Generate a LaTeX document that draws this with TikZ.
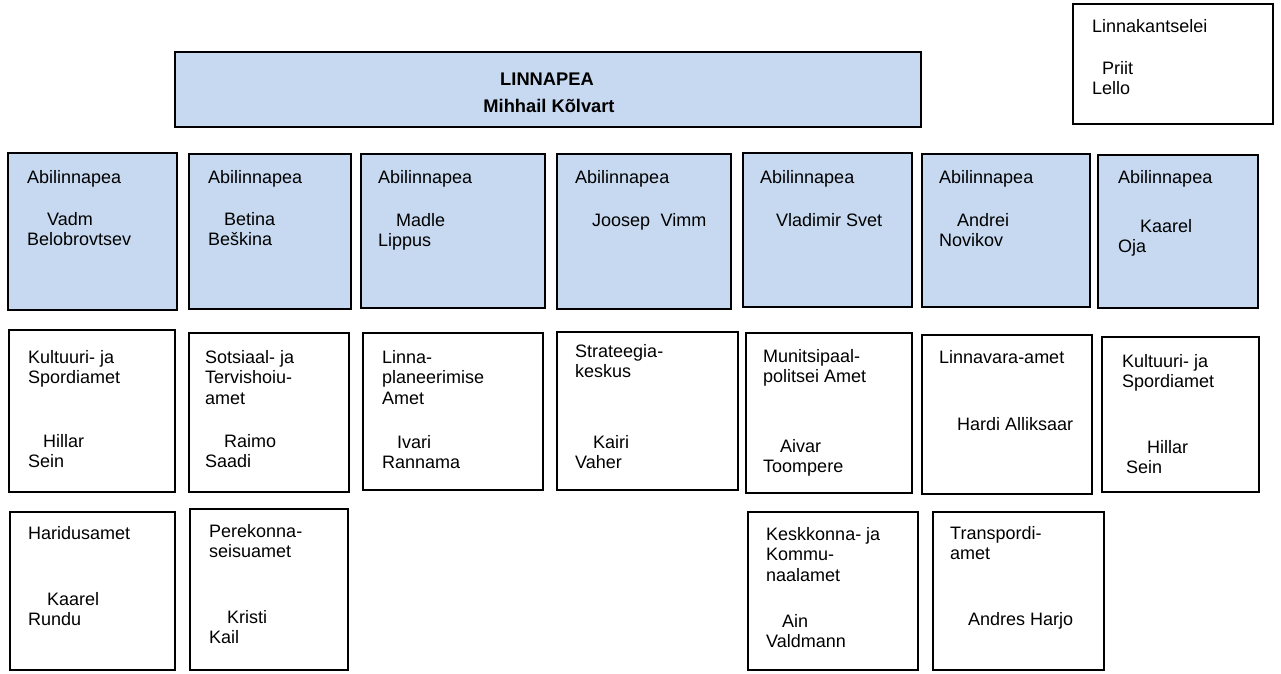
\documentclass[tikz,border=0pt]{standalone}
\usepackage{fontspec}
\setmainfont{Liberation Sans}
\definecolor{boxblue}{HTML}{C6D9F0}
\tikzset{
  boxbase/.style={draw=black, line width=1.6pt, inner sep=0pt, rectangle},
  bluebox/.style={boxbase, fill=boxblue},
  whitebox/.style={boxbase, fill=white},
  txt/.style={anchor=north west, inner sep=0pt, align=left, font=\fontsize{18}{20.5}\selectfont},
  boldtxt/.style={anchor=base, inner sep=0pt, font=\bfseries\fontsize{18.3}{21}\selectfont}
}
\newcommand\bx[6]{\node[#2, minimum width={(#5)-(#3)}, minimum height={(#6)-(#4)}] (#1) at ({((#3)+(#5))/2},{((#4)+(#6))/2}) {};}
\newcommand\tx[4]{\node[txt] (#1) at (#2,{(#3)-14}) {\rule{0pt}{14pt}#4};}
\newcommand\ind[1]{\hspace*{#1pt}}
\begin{document}
\begin{tikzpicture}[x=1pt,y=-1pt]
\useasboundingbox (0,0) rectangle (1281,673);
% main box
\bx{main}{bluebox}{175}{52}{921}{127}
\node[boldtxt] (mainT) at (547,85) {LINNAPEA};
\node[boldtxt] (mainN) at (549,112) {Mihhail Kõlvart};
% Linnakantselei
\bx{kant}{whitebox}{1073}{4}{1273}{124}
\tx{kantT}{1092}{32}{Linnakantselei}
\tx{kantN}{1092}{74}{\ind{10}Priit\\Lello}
% row 1
\bx{a1}{bluebox}{8}{153}{177}{310}
\bx{a2}{bluebox}{189}{154}{351}{309}
\bx{a3}{bluebox}{361}{154}{545}{308}
\bx{a4}{bluebox}{557}{154}{731}{309}
\bx{a5}{bluebox}{743}{153}{912}{307}
\bx{a6}{bluebox}{922}{154}{1090}{307}
\bx{a7}{bluebox}{1098}{155}{1258}{308}
\tx{a1T}{27}{183}{Abilinnapea}
\tx{a1N}{27}{225}{\ind{20}Vadm\\Belobrovtsev}
\tx{a2T}{208}{183}{Abilinnapea}
\tx{a2N}{208}{225}{\ind{16}Betina\\Beškina}
\tx{a3T}{378}{183}{Abilinnapea}
\tx{a3N}{378}{226}{\ind{18}Madle\\Lippus}
\tx{a4T}{575}{183}{Abilinnapea}
\tx{a4N}{592}{226}{Joosep\hspace{0.3em} Vimm}
\tx{a5T}{760}{183}{Abilinnapea}
\tx{a5N}{776}{226}{Vladimir Svet}
\tx{a6T}{939}{183}{Abilinnapea}
\tx{a6N}{939}{226}{\ind{18}Andrei\\Novikov}
\tx{a7T}{1118}{183}{Abilinnapea}
\tx{a7N}{1118}{232}{\ind{22}Kaarel\\Oja}
% row 2
\bx{b1}{whitebox}{9}{330}{175}{492}
\bx{b2}{whitebox}{189}{333}{349}{492}
\bx{b3}{whitebox}{363}{333}{543}{490}
\bx{b4}{whitebox}{557}{332}{738}{490}
\bx{b5}{whitebox}{746}{333}{912}{493}
\bx{b6}{whitebox}{922}{335}{1092}{494}
\bx{b7}{whitebox}{1102}{337}{1259}{492}
\tx{b1T}{28}{363}{Kultuuri- ja\\Spordiamet}
\tx{b1N}{28}{447}{\ind{15}Hillar\\Sein}
\tx{b2T}{205}{363}{Sotsiaal- ja\\Tervishoiu-\\amet}
\tx{b2N}{205}{447}{\ind{19}Raimo\\Saadi}
\tx{b3T}{382}{363}{Linna-\\planeerimise\\Amet}
\tx{b3N}{382}{448}{\ind{15}Ivari\\Rannama}
\tx{b4T}{575}{357}{Strateegia-\\keskus}
\tx{b4N}{575}{448}{\ind{18}Kairi\\Vaher}
\tx{b5T}{763}{362}{Munitsipaal-\\politsei Amet}
\tx{b5N}{763}{452}{\ind{17}Aivar\\Toompere}
\tx{b6T}{939}{363}{Linnavara-amet}
\tx{b6N}{957}{430}{Hardi Alliksaar}
\tx{b7T}{1122}{367}{Kultuuri- ja\\Spordiamet}
\tx{b7N}{1126}{453}{\ind{21}Hillar\\Sein}
% row 3
\bx{c1}{whitebox}{10}{512}{175}{670}
\bx{c2}{whitebox}{190}{509}{348}{670}
\bx{c5}{whitebox}{748}{512}{918}{670}
\bx{c6}{whitebox}{933}{512}{1104}{670}
\tx{c1T}{28}{539}{Haridusamet}
\tx{c1N}{28}{605}{\ind{19}Kaarel\\Rundu}
\tx{c2T}{209}{537}{Perekonna-\\seisuamet}
\tx{c2N}{209}{623}{\ind{18}Kristi\\Kail}
\tx{c5T}{766}{540}{Keskkonna- ja\\Kommu-\\naalamet}
\tx{c5N}{766}{627}{\ind{16}Ain\\Valdmann}
\tx{c6T}{950}{539}{Transpordi-\\amet}
\tx{c6N}{968}{625}{Andres Harjo}
\end{tikzpicture}
\end{document}
